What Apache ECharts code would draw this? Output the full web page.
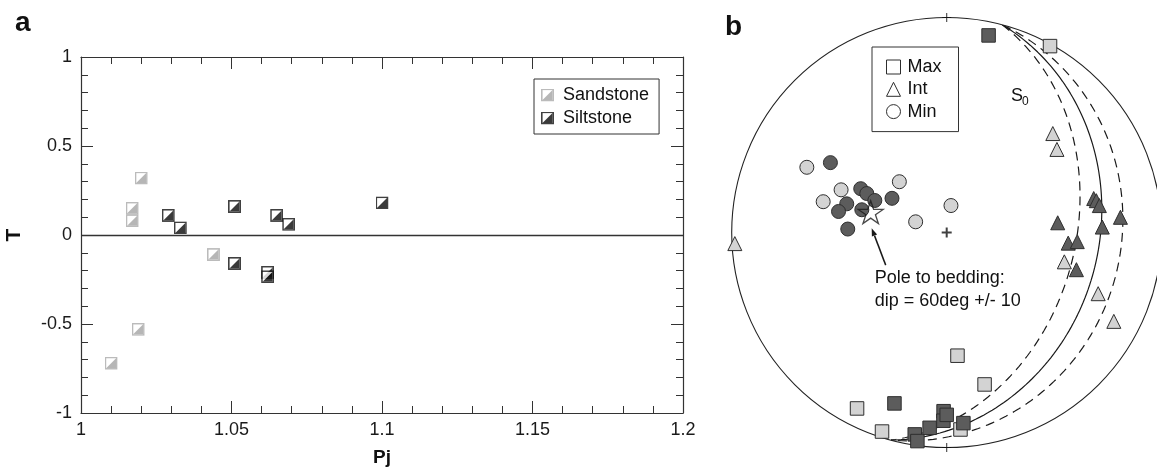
<!DOCTYPE html>
<html>
<head>
<meta charset="utf-8">
<script src="https://cdn.jsdelivr.net/npm/echarts@6/dist/echarts.min.js"></script>
<style>
  html, body { margin: 0; padding: 0; background: #fff; }
  #chart { width: 1157px; height: 469px; }
</style>
</head>
<body>
<div id="chart"></div>
<script>
// ---------- Panel a: shape parameter T against corrected anisotropy degree Pj ----------
const xTicks = [1, 1.05, 1.1, 1.15, 1.2];
const yTicks = [-1, -0.5, 0, 0.5, 1];

const sandPj = [1.020, 1.017, 1.017, 1.044, 1.019, 1.010];
const sandT  = [0.32, 0.15, 0.08, -0.11, -0.53, -0.72];

const siltPj = [1.029, 1.033, 1.051, 1.065, 1.069, 1.100, 1.051, 1.062, 1.062];
const siltT  = [0.11, 0.04, 0.16, 0.11, 0.06, 0.18, -0.16, -0.21, -0.235];

// ---------- Panel b: AMS principal axes, lower-hemisphere equal-area net ----------
// trend / plunge in degrees; light = sandstone, dark = siltstone
const maxSandTrend  = [29, 175, 166, 207, 198, 176];
const maxSandPlunge = [1, 42, 28, 9, 3, 9];
const maxSiltTrend  = [12, 197, 189, 188, 185, 181, 181, 180, 175];
const maxSiltPlunge = [7, 18, 5.5, 2.3, 9.7, 18, 13.5, 16.3, 12];

const intSandTrend  = [47, 53, 267, 104, 112, 118];
const intSandPlunge = [33, 36, 1.5, 43, 25, 13];
const intSiltTrend  = [77, 78, 80, 85, 85, 88, 95, 94, 106];
const intSiltPlunge = [30.5, 29.6, 28.7, 47, 20, 28.4, 42.7, 39, 37.3];

const minSandTrend  = [295, 292, 284, 317, 9, 289];
const minSandPlunge = [29, 46, 40.5, 63.6, 79.7, 77.6];
const minSiltTrend  = [301, 297, 296, 294, 302, 286, 281, 285, 272];
const minSiltPlunge = [37, 53, 56, 60, 65.5, 50, 47.5, 56.4, 52];

// pole to bedding and its dip uncertainty
const poleTrend = 285;
const polePlunge = 60;
const poleSpread = 10;

const FONT = '"Liberation Sans", Arial, Helvetica, sans-serif';
const D2R = Math.PI / 180;

// equal-area (Schmidt) radius, 1 = primitive circle
const eqArea = p => Math.sqrt(Math.max(0, 1 - Math.sin(p * D2R)));
const toPolar = (trends, plunges) => trends.map((t, i) => [eqArea(plunges[i]), t]);

// great circle of a plane given dip direction and dip
function greatCircle(dipDir, dip) {
  const s = (dipDir - 90) * D2R, dd = dipDir * D2R, d = dip * D2R;
  const pts = [];
  for (let a = 0; a <= 180; a += 1.5) {
    const t = a * D2R;
    const n = Math.cos(t) * Math.cos(s) + Math.sin(t) * Math.cos(d) * Math.cos(dd);
    const e = Math.cos(t) * Math.sin(s) + Math.sin(t) * Math.cos(d) * Math.sin(dd);
    const z = Math.sin(t) * Math.sin(d);
    let tr = Math.atan2(e, n) / D2R;
    if (tr < 0) tr += 360;
    pts.push([Math.sqrt(Math.max(0, 1 - z)), tr]);
  }
  return pts;
}

const beddingDipDir = (poleTrend + 180) % 360;
const beddingDips = [90 - polePlunge - poleSpread, 90 - polePlunge, 90 - polePlunge + poleSpread];

// half-filled square marker
function halfSquare(edge, fill) {
  const svg = '<svg xmlns="http://www.w3.org/2000/svg" width="39" height="39" viewBox="0 0 13 13">' +
    '<rect x="0.8" y="0.8" width="11.4" height="11.4" fill="#fff" stroke="' + edge + '" stroke-width="1.6"/>' +
    '<path d="M11.5 1.5 L11.5 11.5 L1.5 11.5 Z" fill="' + fill + '"/></svg>';
  return 'image://data:image/svg+xml;charset=utf-8,' + encodeURIComponent(svg);
}
const sandSymbol = halfSquare('#ababab', '#a5a5a5');
const siltSymbol = halfSquare('#111111', '#0a0a0a');

const STAR = 'path://M50 0 L61.2 34.6 L97.6 34.5 L68.1 55.9 L79.4 90.5 L50 69 L20.6 90.5 L31.9 55.9 L2.4 34.5 L38.8 34.6 Z';
const CROSS_BOLD = 'path://M4 0 H6 V4 H10 V6 H6 V10 H4 V6 H0 V4 H4 Z';
const CROSS_THIN = 'path://M4.4 0 H5.6 V4.4 H10 V5.6 H5.6 V10 H4.4 V5.6 H0 V4.4 H4.4 Z';

const LIGHT = '#d3d3d3';
const DARK = '#5c5c5c';
const EDGE = '#2e2e2e';

const axisBase = {
  type: 'value',
  axisLine: { show: true, onZero: false, lineStyle: { color: '#333', width: 1.2 } },
  axisTick: { show: true, inside: true, length: 12, lineStyle: { color: '#333', width: 1 } },
  minorTick: { show: true, splitNumber: 5, length: 7, lineStyle: { color: '#333', width: 1 } },
  splitLine: { show: false },
  minorSplitLine: { show: false }
};

const xRange = { min: xTicks[0], max: xTicks[xTicks.length - 1], interval: xTicks[1] - xTicks[0] };
const yRange = { min: yTicks[0], max: yTicks[yTicks.length - 1], interval: yTicks[1] - yTicks[0] };
const fmt = v => String(+(+v).toFixed(2));

const chart = echarts.init(document.getElementById('chart'), null, { renderer: 'canvas' });

const pointStyle = fill => ({ color: fill, borderColor: EDGE, borderWidth: 1, opacity: 1 });

const option = {
  backgroundColor: '#fff',
  animation: false,
  textStyle: { fontFamily: FONT },
  grid: { left: 81, top: 57, width: 602, height: 356, containLabel: false, outerBoundsMode: 'none' },
  xAxis: [
    Object.assign({}, axisBase, xRange, {
      position: 'bottom',
      name: 'Pj', nameLocation: 'middle', nameGap: 35,
      nameTextStyle: { fontSize: 19, fontWeight: 'bold', color: '#111', fontFamily: FONT },
      axisLabel: { fontSize: 18, color: '#1a1a1a', margin: 8, formatter: fmt, fontFamily: FONT }
    }),
    Object.assign({}, axisBase, xRange, { position: 'top', axisLabel: { show: false } })
  ],
  yAxis: [
    Object.assign({}, axisBase, yRange, {
      position: 'left',
      name: 'T', nameLocation: 'middle', nameGap: 56, nameRotate: 90,
      nameTextStyle: { fontSize: 21, fontWeight: 'bold', color: '#111', fontFamily: FONT },
      axisLabel: { fontSize: 18, color: '#1a1a1a', margin: 9, formatter: fmt, fontFamily: FONT }
    }),
    Object.assign({}, axisBase, yRange, { position: 'right', axisLabel: { show: false } })
  ],
  polar: { center: [946.7, 232.5], radius: 215 },
  angleAxis: {
    type: 'value', min: 0, max: 360, startAngle: 90, clockwise: true,
    axisLine: { show: true, lineStyle: { color: '#222', width: 1.1 } },
    axisTick: { show: false }, axisLabel: { show: false },
    splitLine: { show: false }, splitArea: { show: false }
  },
  radiusAxis: {
    type: 'value', min: 0, max: 1,
    axisLine: { show: false }, axisTick: { show: false }, axisLabel: { show: false },
    splitLine: { show: false }, splitArea: { show: false }
  },
  legend: [
    {
      orient: 'vertical', left: 534, top: 79,
      padding: [7, 10, 7, 7], itemGap: 5, itemWidth: 13, itemHeight: 13,
      borderColor: '#333', borderWidth: 1, backgroundColor: '#fff',
      selectedMode: false,
      textStyle: { fontSize: 18, color: '#111', fontFamily: FONT, lineHeight: 18, padding: [0, 0, 0, 4] },
      data: [
        { name: 'Sandstone', icon: sandSymbol },
        { name: 'Siltstone', icon: siltSymbol }
      ]
    },
    {
      orient: 'vertical', left: 872, top: 47,
      padding: [11, 17, 11, 14], itemGap: 4.3, itemWidth: 14, itemHeight: 14,
      borderColor: '#333', borderWidth: 1, backgroundColor: '#fff',
      selectedMode: false,
      textStyle: { fontSize: 18, color: '#111', fontFamily: FONT, lineHeight: 18, padding: [0, 0, 0, 2] },
      data: [
        { name: 'Max', icon: 'rect', itemStyle: { color: '#fff', borderColor: EDGE, borderWidth: 1 } },
        { name: 'Int', icon: 'triangle', itemStyle: { color: '#fff', borderColor: EDGE, borderWidth: 1 } },
        { name: 'Min', icon: 'circle', itemStyle: { color: '#fff', borderColor: EDGE, borderWidth: 1 } }
      ]
    }
  ],
  graphic: [
    { type: 'text', id: 'labA', left: 15, top: 9, style: { text: 'a', fontSize: 28, fontWeight: 'bold', fill: '#111', fontFamily: FONT } },
    { type: 'text', id: 'labB', left: 725, top: 13, style: { text: 'b', fontSize: 28, fontWeight: 'bold', fill: '#111', fontFamily: FONT } },
    { type: 'text', id: 's0', left: 1011, top: 87, style: { text: 'S', fontSize: 18, fill: '#111', fontFamily: FONT } },
    { type: 'text', id: 's0sub', left: 1022, top: 96, style: { text: '0', fontSize: 12, fill: '#111', fontFamily: FONT } }
  ],
  series: [
    {
      name: 'Sandstone', type: 'scatter', xAxisIndex: 0, yAxisIndex: 0,
      symbol: sandSymbol, symbolSize: 13, z: 3,
      data: sandPj.map((x, i) => [x, sandT[i]])
    },
    {
      name: 'Siltstone', type: 'scatter', xAxisIndex: 0, yAxisIndex: 0,
      symbol: siltSymbol, symbolSize: 13, z: 3,
      data: siltPj.map((x, i) => [x, siltT[i]]),
      markLine: {
        silent: true, symbol: 'none', label: { show: false }, z: 1,
        lineStyle: { color: '#333', width: 1.3, type: 'solid' },
        data: [{ yAxis: 0 }]
      }
    },
    // bedding great circles (pole dip ± uncertainty dashed)
    ...beddingDips.map((dip, i) => ({
      type: 'line', coordinateSystem: 'polar', silent: true, z: 1,
      symbol: 'none', smooth: false,
      lineStyle: { color: '#1a1a1a', width: 1.2, type: i === 1 ? 'solid' : [9, 6] },
      data: greatCircle(beddingDipDir, dip)
    })),
    {
      type: 'scatter', coordinateSystem: 'polar', silent: true, z: 2,
      symbol: CROSS_BOLD, symbolSize: 10, itemStyle: { color: '#111' },
      data: [[0, 0]]
    },
    {
      type: 'scatter', coordinateSystem: 'polar', silent: true, z: 2,
      symbol: CROSS_THIN, symbolSize: 9, itemStyle: { color: '#111' },
      data: [[1, 0], [1, 180]]
    },
    { name: 'Max', type: 'scatter', coordinateSystem: 'polar', symbol: 'rect', symbolSize: 13.5, z: 3,
      itemStyle: pointStyle(LIGHT), data: toPolar(maxSandTrend, maxSandPlunge) },
    { name: 'Max', type: 'scatter', coordinateSystem: 'polar', symbol: 'rect', symbolSize: 13.5, z: 3,
      itemStyle: pointStyle(DARK), data: toPolar(maxSiltTrend, maxSiltPlunge) },
    { name: 'Int', type: 'scatter', coordinateSystem: 'polar', symbol: 'triangle', symbolSize: 14, z: 3,
      itemStyle: pointStyle(LIGHT), data: toPolar(intSandTrend, intSandPlunge) },
    { name: 'Int', type: 'scatter', coordinateSystem: 'polar', symbol: 'triangle', symbolSize: 14, z: 3,
      itemStyle: pointStyle(DARK), data: toPolar(intSiltTrend, intSiltPlunge) },
    { name: 'Min', type: 'scatter', coordinateSystem: 'polar', symbol: 'circle', symbolSize: 14, z: 3,
      itemStyle: pointStyle(LIGHT), data: toPolar(minSandTrend, minSandPlunge) },
    { name: 'Min', type: 'scatter', coordinateSystem: 'polar', symbol: 'circle', symbolSize: 14, z: 3,
      itemStyle: pointStyle(DARK), data: toPolar(minSiltTrend, minSiltPlunge) },
    {
      id: 'pole', type: 'scatter', coordinateSystem: 'polar', silent: true, z: 4,
      symbol: STAR, symbolSize: [25, 24], symbolKeepAspect: true,
      itemStyle: { color: 'rgba(0,0,0,0)', borderColor: '#1a1a1a', borderWidth: 1.3 },
      data: [[eqArea(polePlunge), poleTrend]]
    }
  ]
};

chart.setOption(option);

// annotation for the pole to bedding, anchored to the star
const star = chart.convertToPixel({ seriesId: 'pole' }, [eqArea(polePlunge), poleTrend]);
if (star) {
  const [sx, sy] = star;
  const tail = [sx + 15, sy + 53];
  const tip = [sx + 1, sy + 16];
  const ang = Math.atan2(tip[1] - tail[1], tip[0] - tail[0]);
  const hl = 8, hw = 2.8;
  const bx = tip[0] - hl * Math.cos(ang), by = tip[1] - hl * Math.sin(ang);
  const nx = -Math.sin(ang), ny = Math.cos(ang);
  chart.setOption({
    graphic: [
      { type: 'line', id: 'arrowShaft', z: 5, shape: { x1: tail[0], y1: tail[1], x2: bx, y2: by },
        style: { stroke: '#1a1a1a', lineWidth: 1.5 } },
      { type: 'polygon', id: 'arrowHead', z: 5,
        shape: { points: [tip, [bx + nx * hw, by + ny * hw], [bx - nx * hw, by - ny * hw]] },
        style: { fill: '#1a1a1a' } },
      { type: 'text', id: 'poleNote', z: 5, x: sx + 4, y: sy + 55,
        style: { text: 'Pole to bedding:\ndip = ' + polePlunge + 'deg +/- ' + poleSpread,
          fontSize: 18, lineHeight: 22.5, fill: '#111', fontFamily: FONT } }
    ]
  });
}
</script>
</body>
</html>
